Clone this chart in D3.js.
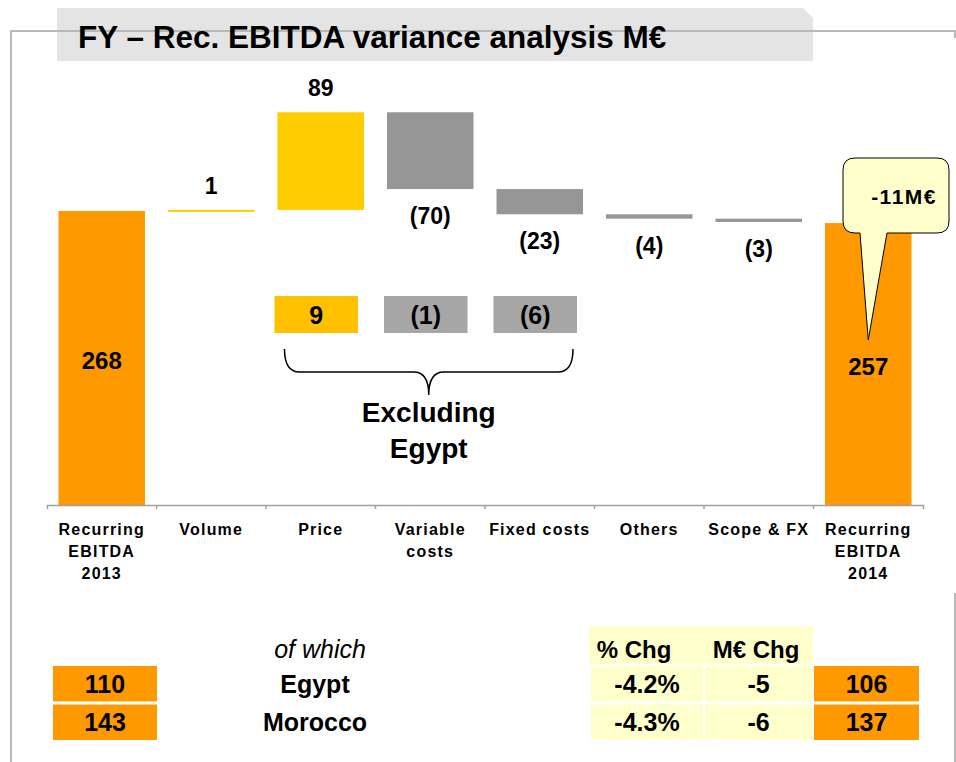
<!DOCTYPE html>
<html>
<head>
<meta charset="utf-8">
<script src="https://cdn.jsdelivr.net/npm/d3@7"></script>
<style>
  body { margin: 0; background: #fff; }
  text { font-family: "Liberation Sans", Arial, sans-serif; font-weight: bold; fill: #000; }
</style>
</head>
<body>
<div id="chart"></div>
<script>
// waterfall data (M€)
const categories = ["Recurring EBITDA 2013", "Volume", "Price", "Variable costs", "Fixed costs", "Others", "Scope & FX", "Recurring EBITDA 2014"];
const categoryLines = [["Recurring", "EBITDA", "2013"], ["Volume"], ["Price"], ["Variable", "costs"], ["Fixed costs"], ["Others"], ["Scope & FX"], ["Recurring", "EBITDA", "2014"]];
const values = [268, 1, 89, -70, -23, -4, -3, 257];
const isTotal = [true, false, false, false, false, false, false, true];

// excluding Egypt
const exEgyptCats = ["Price", "Variable costs", "Fixed costs"];
const exEgyptValues = [9, -1, -6];

// table by country
const countries = ["Egypt", "Morocco"];
const ebitda2013 = [110, 143];
const ebitda2014 = [106, 137];
const pctChg = [-4.2, -4.3];
const meurChg = [-5, -6];

const ORANGE = "#ff9900", YELLOW = "#ffcc00", GREY = "#969696";
const YELLOW2 = "#ffc000", GREY2 = "#a6a6a6", CREAM = "#ffffcc";

const W = 956, H = 762;
const svg = d3.select("#chart").append("svg").attr("width", W).attr("height", H);
svg.append("rect").attr("width", W).attr("height", H).attr("fill", "#fff");

// title box + frame
svg.append("path").attr("d", "M57,8 L803,8 L813,18 L813,61 L57,61 Z").attr("fill", "#e4e4e4");
svg.append("path").attr("d", "M11,762 L11,31 L955,31 L955,38 M955,593 L955,762")
  .attr("fill", "none").attr("stroke", "#b8b8b8").attr("stroke-width", 2);
svg.append("text").attr("x", 78).attr("y", 48).attr("font-size", 31.5)
  .text("FY \u2013 Rec. EBITDA variance analysis M\u20ac");

// scales
const x = d3.scaleBand().domain(categories).range([47, 923]).paddingInner(0.21).paddingOuter(0.105);
const y = d3.scaleLinear().domain([0, 268]).range([505, 211]);

// waterfall steps
let run = 0;
const steps = categories.map((c, i) => {
  let s, e;
  if (isTotal[i]) { s = 0; e = values[i]; run = values[i]; }
  else { s = run; e = run + values[i]; run = e; }
  return { cat: c, v: values[i], s: s, e: e, total: isTotal[i] };
});

const fmt = v => v < 0 ? "(" + Math.abs(v) + ")" : String(v);

const g = svg.append("g");
g.selectAll("rect.bar").data(steps).join("rect")
  .attr("class", "bar")
  .attr("x", d => x(d.cat))
  .attr("width", x.bandwidth())
  .attr("y", d => y(Math.max(d.s, d.e)))
  .attr("height", d => Math.max(2, Math.abs(y(d.s) - y(d.e))))
  .attr("fill", d => d.total ? ORANGE : (d.v >= 0 ? YELLOW : GREY));

// labels
g.selectAll("text.val").data(steps).join("text")
  .attr("class", "val")
  .attr("text-anchor", "middle")
  .attr("x", d => x(d.cat) + x.bandwidth() / 2)
  .attr("y", d => {
    if (d.total) return (y(d.e) + y(0)) / 2 + 11;
    if (d.v >= 0) return y(d.e) - 16;
    return y(d.e) + 35;
  })
  .attr("font-size", d => d.total ? 24 : 23)
  .text(d => fmt(d.v));

// axis
const axis = svg.append("g").attr("transform", "translate(0,505)")
  .call(d3.axisBottom(x).tickSize(0).tickSizeOuter(4).tickFormat(""));
axis.select(".domain").attr("stroke", "#a0a0a0").attr("stroke-width", 1.5);
const halfGap = x.step() * x.paddingInner() / 2;
axis.selectAll("line.bound").data(categories.slice(1)).join("line")
  .attr("class", "bound")
  .attr("x1", d => x(d) - halfGap).attr("x2", d => x(d) - halfGap)
  .attr("y1", 0).attr("y2", 4)
  .attr("stroke", "#a0a0a0").attr("stroke-width", 1.5);

// category labels
const cl = svg.append("g");
categories.forEach((c, i) => {
  const t = cl.append("text").attr("text-anchor", "middle")
    .attr("font-size", 16).attr("letter-spacing", 1.2)
    .attr("x", x(c) + x.bandwidth() / 2).attr("y", 535);
  categoryLines[i].forEach((ln, j) => {
    t.append("tspan").attr("x", x(c) + x.bandwidth() / 2).attr("dy", j === 0 ? 0 : 22).text(ln);
  });
});

// excluding Egypt boxes
const ex = svg.append("g");
exEgyptCats.forEach((c, i) => {
  const v = exEgyptValues[i];
  ex.append("rect").attr("x", x(c) - 3).attr("y", 296).attr("width", x.bandwidth() - 3).attr("height", 37)
    .attr("fill", v >= 0 ? YELLOW2 : GREY2);
  ex.append("text").attr("text-anchor", "middle").attr("font-size", 25)
    .attr("x", x(c) - 3 + (x.bandwidth() - 3) / 2).attr("y", 324).text(fmt(v));
});
// brace
const bx0 = x(exEgyptCats[0]) + 7, bx1 = x(exEgyptCats[2]) + x.bandwidth() - 10, bm = (bx0 + bx1) / 2;
ex.append("path")
  .attr("d", `M${bx0},349 Q${bx0},372 ${bx0 + 15},372 L${bm - 15},372 Q${bm},372 ${bm},395 Q${bm},372 ${bm + 15},372 L${bx1 - 15},372 Q${bx1},372 ${bx1},349`)
  .attr("fill", "none").attr("stroke", "#000").attr("stroke-width", 1.5);
ex.append("text").attr("text-anchor", "middle").attr("font-size", 28).attr("x", bm).attr("y", 422).text("Excluding");
ex.append("text").attr("text-anchor", "middle").attr("font-size", 28).attr("x", bm).attr("y", 458).text("Egypt");

// callout
const tipX = x(categories[7]) + x.bandwidth() / 2;
const diff = values[7] - values[0];
svg.append("path")
  .attr("d", `M855,158 H937 Q949,158 949,170 V221 Q949,233 937,233 H887 L${tipX},340 L860,233 H855 Q843,233 843,221 V170 Q843,158 855,158 Z`)
  .attr("fill", CREAM).attr("stroke", "#000").attr("stroke-width", 1);
svg.append("text").attr("text-anchor", "end").attr("x", 937).attr("y", 204)
  .attr("font-size", 21).attr("letter-spacing", 1.5).text(diff + "M\u20ac");

// table
const tb = svg.append("g");
const row = d3.scaleBand().domain(countries).range([666, 740]).paddingInner(0.08);
tb.append("rect").attr("x", 589).attr("y", 626).attr("width", 224).attr("height", 38).attr("fill", CREAM);
tb.append("text").attr("x", 320).attr("y", 658).attr("text-anchor", "middle").attr("font-size", 25)
  .style("font-weight", "normal").style("font-style", "italic").text("of which");
tb.append("text").attr("x", 634).attr("y", 658).attr("text-anchor", "middle").attr("font-size", 24).text("% Chg");
tb.append("text").attr("x", 756).attr("y", 658).attr("text-anchor", "middle").attr("font-size", 24).text("M\u20ac Chg");

const cols = [
  { x0: 53, x1: 157, fill: ORANGE, val: i => ebitda2013[i] },
  { x0: 591, x1: 703, fill: CREAM, val: i => pctChg[i].toFixed(1) + "%" },
  { x0: 705, x1: 812, fill: CREAM, val: i => meurChg[i] },
  { x0: 814, x1: 919, fill: ORANGE, val: i => ebitda2014[i] }
];
countries.forEach((c, i) => {
  const ry = row(c), rh = row.bandwidth();
  cols.forEach(col => {
    tb.append("rect").attr("x", col.x0).attr("y", ry).attr("width", col.x1 - col.x0).attr("height", rh).attr("fill", col.fill);
    tb.append("text").attr("x", (col.x0 + col.x1) / 2).attr("y", ry + rh / 2 + 9)
      .attr("text-anchor", "middle").attr("font-size", 25).text(col.val(i));
  });
  tb.append("text").attr("x", 315).attr("y", ry + rh / 2 + 9).attr("text-anchor", "middle").attr("font-size", 25).text(c);
});
</script>
</body>
</html>
